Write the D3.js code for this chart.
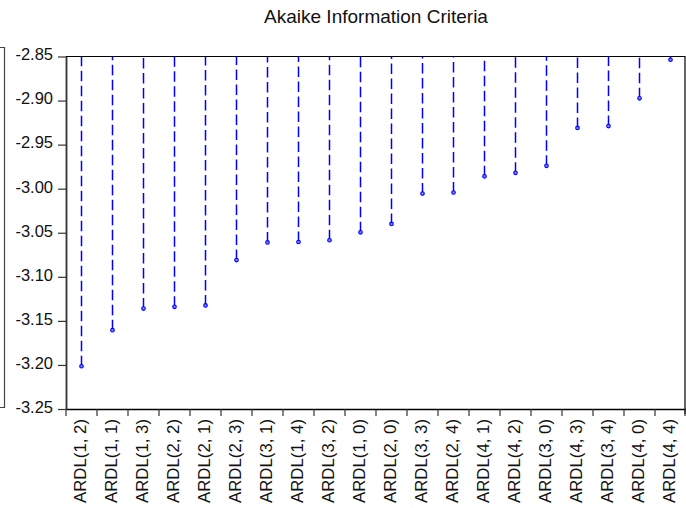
<!DOCTYPE html>
<html>
<head>
<meta charset="utf-8">
<script src="https://cdn.jsdelivr.net/npm/d3@7"></script>
<style>
  html, body { margin: 0; padding: 0; background: #fff; }
  svg { display: block; font-family: "Liberation Sans", Arial, sans-serif; }
</style>
</head>
<body>
<svg id="chart" width="686" height="508"></svg>
<script>
const title = "Akaike Information Criteria";
const categories = ["ARDL(1, 2)","ARDL(1, 1)","ARDL(1, 3)","ARDL(2, 2)","ARDL(2, 1)","ARDL(2, 3)","ARDL(3, 1)","ARDL(1, 4)","ARDL(3, 2)","ARDL(1, 0)","ARDL(2, 0)","ARDL(3, 3)","ARDL(2, 4)","ARDL(4, 1)","ARDL(4, 2)","ARDL(3, 0)","ARDL(4, 3)","ARDL(3, 4)","ARDL(4, 0)","ARDL(4, 4)"];
const aicValues = [-3.2015,-3.1605,-3.136,-3.134,-3.1325,-3.081,-3.061,-3.0605,-3.0585,-3.0495,-3.040,-3.0055,-3.0043,-2.986,-2.982,-2.974,-2.931,-2.929,-2.8975,-2.8537];
const yTicks = [-2.85,-2.90,-2.95,-3.00,-3.05,-3.10,-3.15,-3.20,-3.25];

const svg = d3.select("#chart");
const L = 66, R = 686, T = 56.5, B = 409;

const x = d3.scaleBand().domain(categories).range([L, R]).padding(0);
const y = d3.scaleLinear().domain([-3.25, -2.85]).range([B, T]);

// stray bracket at far left (part of original graphic frame)
svg.append("path").attr("d", "M0,47.5H4.5V407.5H0")
  .attr("fill", "none").attr("stroke", "#444").attr("stroke-width", 1.2);

// title
svg.append("text").attr("x", (L + R) / 2).attr("y", 22.5)
  .attr("text-anchor", "middle").attr("font-size", 19).attr("fill", "#111")
  .text(title);

// top and right frame
svg.append("path").attr("d", `M${L},${T}H${R - 1}V${B + 5}`)
  .attr("fill", "none").attr("stroke", "#000").attr("stroke-width", 1.2);

// y axis (plain hyphen minus as in the reference)
const fmt = d => d.toFixed(2);
const yAxis = svg.append("g").attr("transform", `translate(${L},0)`)
  .call(d3.axisLeft(y).tickValues(yTicks).tickFormat(fmt).tickSize(8).tickSizeOuter(0));
yAxis.select(".domain").attr("stroke", "#333").attr("stroke-width", 1.8);
yAxis.selectAll(".tick line").attr("stroke", "#333").attr("stroke-width", 1.2);
yAxis.selectAll(".tick text").attr("x", -13).attr("dy", "0.2em")
  .attr("font-size", 16.5).attr("fill", "#111")
  .attr("font-family", "Liberation Sans, Arial, sans-serif");

// x axis
const xAxis = svg.append("g").attr("transform", `translate(0,${B})`)
  .call(d3.axisBottom(x).tickSize(0).tickSizeOuter(0));
xAxis.select(".domain").attr("stroke", "#000").attr("stroke-width", 1.4);
xAxis.selectAll(".tick text")
  .attr("transform", "rotate(-90)")
  .attr("x", -10).attr("y", -1.5).attr("dy", "0.35em")
  .attr("text-anchor", "end").attr("font-size", 16.8).attr("fill", "#111")
  .attr("font-family", "Liberation Sans, Arial, sans-serif");
// boundary ticks between categories
const bounds = categories.map(c => x(c)).concat([x.range()[1] - 1]);
xAxis.selectAll(".btick").data(bounds).enter().append("line")
  .attr("class", "btick")
  .attr("x1", d => d).attr("x2", d => d).attr("y1", 0).attr("y2", 7)
  .attr("stroke", "#333").attr("stroke-width", 1.2);

// dashed stems drawn from the point upward
const data = categories.map((c, i) => ({ c, v: aicValues[i] }));
svg.append("g").selectAll("path").data(data).enter().append("path")
  .attr("d", d => `M${x(d.c) + x.bandwidth() / 2},${y(d.v)}V${T}`)
  .attr("stroke", "#0000ff").attr("stroke-width", 1.5)
  .attr("stroke-dasharray", "10.5,4.5").attr("fill", "none");

svg.append("g").selectAll("circle").data(data).enter().append("circle")
  .attr("cx", d => x(d.c) + x.bandwidth() / 2).attr("cy", d => y(d.v))
  .attr("r", 1.8).attr("fill", "#8080ff").attr("stroke", "#0000ff").attr("stroke-width", 1.1);
</script>
</body>
</html>
